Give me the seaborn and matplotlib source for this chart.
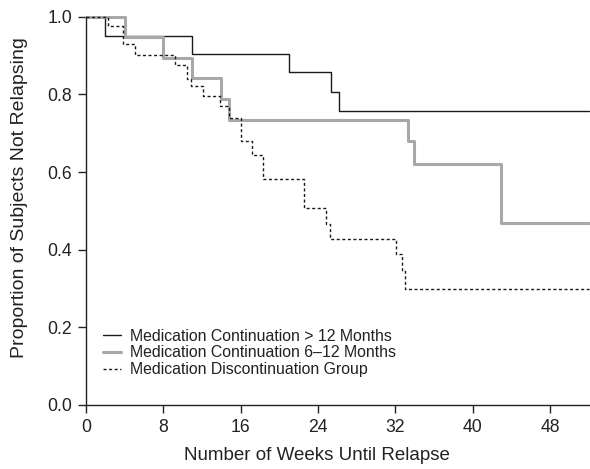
import pandas as pd
import matplotlib
matplotlib.use('Agg')
import matplotlib.pyplot as plt
import seaborn as sns

# Kaplan-Meier style step values
cont12_weeks = [0, 2, 11, 21, 25.3, 26.2, 52]
cont12_surv = [1.0, 0.952, 0.905, 0.857, 0.807, 0.758, 0.758]

cont6_weeks = [0, 4, 8, 11, 14, 14.8, 33.3, 33.9, 42.9, 52]
cont6_surv = [1.0, 0.947, 0.895, 0.842, 0.789, 0.734, 0.680, 0.620, 0.468, 0.468]

disc_weeks = [0, 2.3, 3.85, 5.05, 9.24, 10.4, 10.8, 12.1, 13.8, 14.8, 16.0,
              17.2, 18.3, 22.5, 24.8, 25.2, 32.1, 32.7, 33.0, 52]
disc_surv = [1.0, 0.977, 0.93, 0.903, 0.875, 0.841, 0.823, 0.795, 0.771, 0.739,
             0.679, 0.644, 0.582, 0.508, 0.466, 0.428, 0.388, 0.344, 0.298, 0.298]

labels = ['Medication Continuation > 12 Months',
          'Medication Continuation 6\u201312 Months',
          'Medication Discontinuation Group']

x_ticks = [0, 8, 16, 24, 32, 40, 48]
y_ticks = [0.0, 0.2, 0.4, 0.6, 0.8, 1.0]

sns.set_style('ticks')
plt.rcParams['font.family'] = ['Liberation Sans', 'DejaVu Sans']

fig = plt.figure(figsize=(5.9, 4.69), dpi=100)
ax = fig.add_axes([0.146, 0.137, 0.852, 0.827])

groups = [
    (cont12_weeks, cont12_surv, dict(color='#1a1a1a', lw=1.0)),
    (cont6_weeks, cont6_surv, dict(color='#a8a8a8', lw=2.2)),
    (disc_weeks, disc_surv, dict(color='#1a1a1a', lw=1.0, linestyle=(0, (2.2, 1.8)))),
]
for (wk, sv, style), lab in zip(groups, labels):
    df = pd.DataFrame({'week': wk, 'surv': sv})
    sns.lineplot(data=df, x='week', y='surv', drawstyle='steps-post',
                 label=lab, ax=ax, clip_on=False, **style)

ax.set_xlim(0, 52)
ax.set_ylim(0, 1.0)
ax.set_xticks(x_ticks)
ax.set_yticks(y_ticks)
ax.set_yticklabels([f'{v:.1f}' for v in y_ticks])
ax.tick_params(axis='both', labelsize=12.7, color='#222222', labelcolor='#222222',
               length=6, width=1, direction='out', pad=4)
for side in ['top', 'right']:
    ax.spines[side].set_visible(False)
for side in ['left', 'bottom']:
    ax.spines[side].set_color('#222222')
    ax.spines[side].set_linewidth(1.0)

ax.set_xlabel('Number of Weeks Until Relapse', fontsize=13.5, color='#222222')
ax.set_ylabel('Proportion of Subjects Not Relapsing', fontsize=14, color='#222222')
ax.xaxis.set_label_coords(0.46, -0.108)
ax.yaxis.set_label_coords(-0.115, 0.534)

ax.legend(loc='lower left', bbox_to_anchor=(0.021, 0.055), borderaxespad=0,
          frameon=False, fontsize=11.4, handlelength=1.15, handletextpad=0.55,
          labelspacing=0.1, labelcolor='#222222')

fig.savefig('out.png', dpi=100)
